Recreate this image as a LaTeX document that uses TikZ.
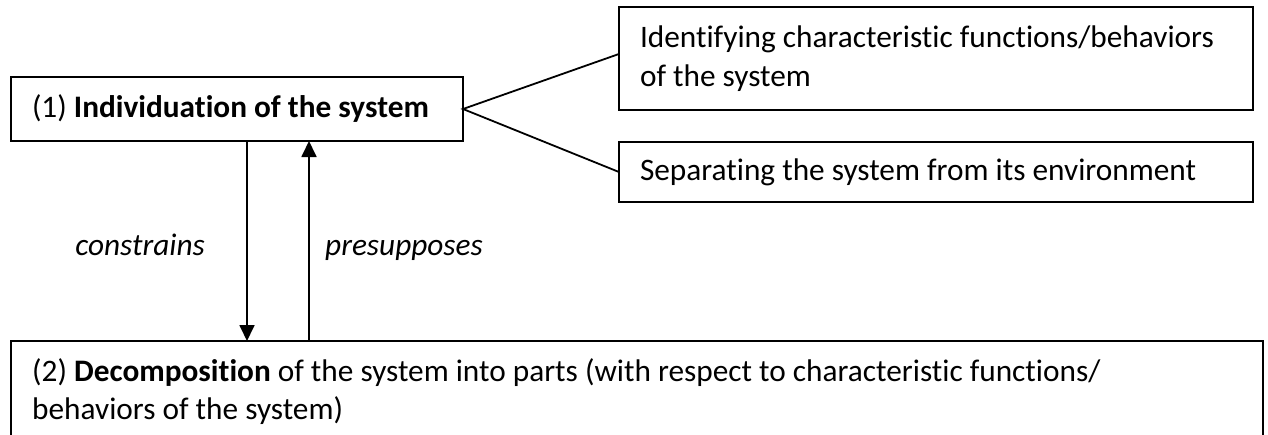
\documentclass[tikz,border=0pt]{standalone}
\usepackage{fontspec}
\setmainfont{Carlito}[Ligatures={NoCommon}]
\usetikzlibrary{arrows.meta,calc}
\begin{document}
\begin{tikzpicture}[x=1pt,y=-1pt,
  mainfont/.style={font=\fontsize{31.3pt}{38.7pt}\selectfont},
  box/.style={draw, line width=1.8pt, outer sep=0pt, inner xsep=21pt, inner ysep=0pt,
    align=flush left, anchor=north west, mainfont},
  frame/.style={draw, line width=1.8pt, outer sep=0pt, inner sep=0pt, anchor=north west},
  boxtext/.style={inner sep=0pt, align=flush left, anchor=north west, mainfont},
  link/.style={line width=1.8pt},
  arr/.style={line width=1.8pt, -{Triangle[length=16pt,width=15pt]}},
  lbl/.style={inner sep=0pt, font=\fontsize{31.3pt}{38.7pt}\selectfont\itshape}]
\useasboundingbox (0,0) rectangle (1268,434);

% level (1) and its two aspects
\node[box, text width=410pt, minimum height=64pt] (b1) at (11,77)
  {(1) \textbf{Individuation of the system}};
\node[box, text width=592pt, minimum height=103pt] (b2) at (619,7)
  {Identifying characteristic functions/behaviors\\of the system};
\node[box, text width=592pt, minimum height=60pt] (b3) at (619,142)
  {Separating the system from its environment};

% level (2), running past the lower edge
\node[frame, minimum width=1252pt, minimum height=150pt] (b4) at (11,341) {};
\node[boxtext] (b4t) at (32,358)
  {(2) \textbf{Decomposition} of the system into parts (with respect to characteristic functions/\\behaviors of the system)};

% branches from (1)
\coordinate (j2) at ($(b2.north west)!0.456!(b2.south west)$);
\draw[link] (j2) -- (b1.east) -- (b3.west);

% relations between the levels
\coordinate (xd) at (247,0);
\coordinate (xu) at (309,0);
\draw[arr] (b1.south -| xd) -- (b4.north -| xd);
\draw[arr] (b4.north -| xu) -- (b1.south -| xu);
\node[lbl, anchor=base east] (c1) at (205,255) {constrains};
\node[lbl, anchor=base west] (c2) at (325,255) {presupposes};
\end{tikzpicture}
\end{document}
